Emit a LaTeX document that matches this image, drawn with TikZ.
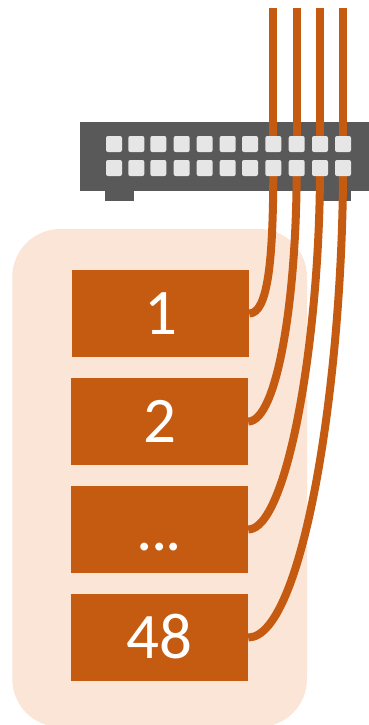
\documentclass[tikz,border=0pt]{standalone}
\usepackage{fontspec}
\setmainfont{Carlito}
\definecolor{cableorange}{HTML}{C55A11}
\definecolor{panelpeach}{HTML}{FBE5D6}
\definecolor{switchgray}{HTML}{595959}
\definecolor{portgray}{HTML}{E6E6E6}
\tikzset{
	unitbox/.style={fill=cableorange, text=white, minimum width=177pt, minimum height=87pt, inner sep=0pt,
		text height=41pt, text depth=0pt, font=\fontsize{65}{65}\selectfont},
	portbox/.style={fill=portgray, rounded corners=2pt, minimum width=16pt, minimum height=16pt, inner sep=0pt},
	cable/.style={draw=cableorange, line width=8pt}
}
\begin{document}
\begin{tikzpicture}[x=1pt, y=-1pt, line join=round]
	\useasboundingbox (0,0) rectangle (369,725);
	% 1. Panel behind the boxes
	\fill[panelpeach, rounded corners=48pt] (12.3,229) rectangle (307,727);

	% 2. Switch body and its feet
	\fill[switchgray] (80,122) rectangle (369,191);
	\fill[switchgray] (105,191) rectangle (134,201);
	\fill[switchgray] (323,191) rectangle (351,201);

	% 3. Boxes
	\node[unitbox] (box1) at (160.5,313.5) {1};
	\node[unitbox] (box2) at (159.5,421.5) {2};
	\node[unitbox] (box3) at (159.5,529.5) {.\kern-2pt.\kern-2pt.};
	\node[unitbox] (box4) at (159.5,637.5) {48};

	% 4. Cable ends above the switch
	\coordinate (top8) at (273.3,8);
	\coordinate (top9) at (296.7,8);
	\coordinate (top10) at (320,8);
	\coordinate (top11) at (343,8);

	% 5. Cables first, the ports lie over them
	\foreach \i/\px in {8/273.3, 9/296.7, 10/320, 11/343} {
		\coordinate (upin\i) at (\px,144);
		\coordinate (lowin\i) at (\px,168);
		\draw[cable] (top\i) -- (upin\i);
	}
	\draw[cable] (lowin8) .. controls (273.3,260) and (268,313.5) .. (box1.east);
	\draw[cable] (lowin9) .. controls (296.7,300) and (277,421.5) .. (box2.east);
	\draw[cable] (lowin10) .. controls (320,340) and (287,529.5) .. (box3.east);
	\draw[cable] (lowin11) .. controls (343,380) and (303,637.5) .. (box4.east);

	% 6. Two rows of ports
	\foreach \i/\px in {1/114, 2/136.3, 3/158.3, 4/181.7, 5/204.7, 6/227.7, 7/250, 8/273.3, 9/296.7, 10/320, 11/343} {
		\node[portbox] (up\i) at (\px,144) {};
		\node[portbox] (low\i) at (\px,168) {};
	}
\end{tikzpicture}
\end{document}
